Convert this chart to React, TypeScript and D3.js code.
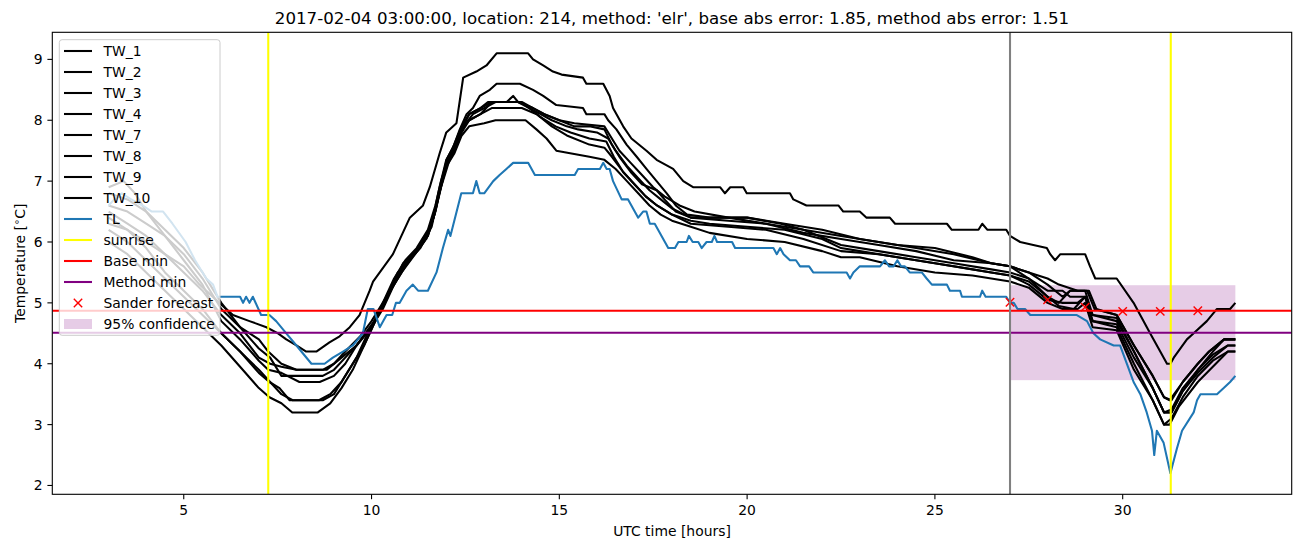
import React from "react";
import * as d3 from "d3";

type Pt = [number, number];

// ---- data (hours, °C) ----
const tw1: Pt[] = [[3.0,6.3],[3.5,6.2],[4.0,6.0],[4.5,5.8],[5.0,5.6],[5.42,5.3],[5.95,5.0],[6.31,4.8],[6.75,4.7],[7.2,4.6],[7.51,4.5],[7.73,4.4],[8.0,4.3],[8.26,4.2],[8.53,4.2],[8.88,4.35],[9.15,4.45],[9.42,4.6],[9.68,4.8],[9.95,5.2],[10.04,5.35],[10.57,5.8],[11.02,6.4],[11.37,6.6],[11.55,6.9],[11.81,7.45],[11.99,7.8],[12.26,7.95],[12.44,8.7],[12.79,8.8],[13.06,8.9],[13.33,9.1],[14.17,9.1],[14.3,9.0],[14.57,8.9],[14.83,8.8],[15.06,8.75],[15.63,8.7],[15.72,8.6],[16.17,8.6],[16.34,8.4],[16.43,8.2],[16.7,7.9],[16.92,7.7],[17.32,7.5],[17.59,7.35],[18.03,7.2],[18.3,7.0],[18.56,6.9],[19.28,6.9],[19.41,6.8],[19.55,6.9],[19.9,6.9],[19.99,6.8],[21.14,6.8],[21.23,6.7],[21.58,6.6],[22.43,6.6],[22.56,6.5],[23.0,6.5],[23.18,6.4],[23.8,6.4],[23.94,6.3],[25.32,6.3],[25.45,6.2],[26.16,6.2],[26.26,6.3],[26.4,6.2],[26.9,6.2],[27.0,6.1],[27.27,6.0],[27.62,5.95],[27.98,5.9],[28.07,5.8],[28.2,5.7],[28.34,5.8],[29.0,5.8],[29.13,5.6],[29.27,5.4],[29.84,5.4],[30.29,5.0],[30.73,4.5],[31.0,4.2],[31.18,4.0],[31.27,4.0],[31.36,4.1],[31.71,4.4],[31.89,4.5],[32.24,4.7],[32.51,4.9],[32.86,4.9],[33.0,5.0]];
const tw2: Pt[] = [[3.0,6.6],[3.5,6.5],[4.0,6.3],[4.5,6.1],[5.0,5.8],[5.5,5.4],[6.0,4.9],[6.5,4.6],[7.0,4.4],[7.25,4.2],[7.6,4.0],[8.0,3.9],[8.8,3.9],[9.2,4.1],[9.6,4.3],[10.13,4.75],[10.57,5.3],[10.84,5.65],[11.19,5.85],[11.46,6.05],[11.64,6.4],[11.81,6.9],[11.99,7.35],[12.17,7.55],[12.35,7.85],[12.53,8.1],[12.7,8.2],[12.88,8.4],[13.15,8.5],[13.33,8.6],[13.95,8.6],[14.3,8.5],[14.57,8.4],[14.92,8.25],[15.63,8.2],[15.72,8.1],[16.2,8.1],[16.3,8.0],[16.52,7.85],[16.79,7.6],[17.06,7.4],[17.32,7.2],[17.59,7.0],[17.86,6.8],[18.1,6.6],[18.4,6.45],[19.0,6.4],[20.0,6.4],[20.9,6.3],[21.5,6.2],[22.5,6.1],[23.5,6.0],[24.5,5.9],[25.5,5.8],[26.5,5.65],[27.0,5.6],[27.5,5.5],[28.0,5.4],[28.3,5.3],[28.8,5.2],[29.05,5.2],[29.25,4.9],[29.84,4.8],[30.3,4.3],[30.8,3.8],[31.1,3.45],[31.25,3.4],[31.6,3.7],[32.0,4.0],[32.3,4.2],[32.7,4.4],[33.0,4.4]];
const tw3: Pt[] = [[3.0,6.8],[3.5,6.7],[4.0,6.5],[4.5,6.2],[5.0,5.9],[5.5,5.5],[6.0,5.0],[6.5,4.6],[7.0,4.25],[7.3,4.1],[7.6,3.8],[8.7,3.8],[9.0,3.9],[9.3,4.1],[9.6,4.3],[10.0,4.6],[10.3,4.9],[10.6,5.3],[10.9,5.65],[11.2,5.85],[11.5,6.1],[11.7,6.5],[11.85,6.95],[12.0,7.35],[12.2,7.6],[12.4,7.9],[12.6,8.1],[12.9,8.2],[13.2,8.3],[13.6,8.3],[13.77,8.4],[13.9,8.3],[14.3,8.2],[14.6,8.1],[15.0,8.0],[15.4,7.9],[15.8,7.9],[16.2,7.85],[16.4,7.6],[16.6,7.4],[16.9,7.15],[17.2,6.95],[17.59,6.85],[17.8,6.7],[18.1,6.5],[18.5,6.4],[19.5,6.4],[20.5,6.3],[21.5,6.2],[22.5,5.95],[23.5,5.85],[24.5,5.75],[25.5,5.65],[26.5,5.55],[27.0,5.5],[27.5,5.4],[28.0,5.1],[28.3,5.0],[28.6,5.2],[29.0,5.2],[29.2,4.8],[29.84,4.7],[30.3,4.2],[30.8,3.6],[31.1,3.2],[31.3,3.25],[31.6,3.6],[32.0,3.9],[32.4,4.2],[32.7,4.4],[33.0,4.4]];
const tw4: Pt[] = [[3.0,6.5],[3.5,6.3],[4.0,6.1],[4.5,5.8],[5.0,5.5],[5.5,5.2],[6.0,4.8],[6.5,4.5],[7.0,4.1],[7.3,4.0],[7.6,3.95],[8.0,3.9],[8.7,3.9],[9.0,4.0],[9.3,4.2],[9.7,4.45],[10.0,4.7],[10.3,5.0],[10.6,5.4],[10.9,5.7],[11.2,5.9],[11.5,6.2],[11.7,6.6],[11.85,7.0],[12.0,7.3],[12.2,7.55],[12.4,7.85],[12.6,8.1],[12.9,8.2],[13.1,8.3],[13.95,8.3],[14.2,8.2],[14.5,8.1],[14.8,8.0],[15.2,7.9],[15.5,7.85],[16.0,7.8],[16.3,7.7],[16.5,7.5],[16.8,7.25],[17.1,7.05],[17.4,6.85],[17.7,6.7],[18.0,6.55],[18.5,6.4],[19.5,6.35],[20.5,6.3],[21.5,6.15],[22.5,6.05],[23.5,5.95],[24.5,5.85],[25.5,5.7],[26.5,5.65],[27.0,5.6],[27.5,5.4],[28.0,5.2],[28.4,5.2],[28.6,5.1],[29.0,5.1],[29.2,4.8],[29.84,4.75],[30.3,4.2],[30.8,3.6],[31.1,3.2],[31.3,3.2],[31.6,3.55],[32.0,3.85],[32.4,4.1],[32.8,4.3],[33.0,4.3]];
const tw7: Pt[] = [[3.0,6.9],[3.4,7.0],[3.7,6.8],[4.0,6.5],[4.5,6.1],[5.0,5.7],[5.5,5.3],[6.0,4.7],[6.5,4.4],[7.0,4.05],[7.25,3.9],[7.6,3.85],[8.08,3.7],[8.62,3.7],[9.0,3.8],[9.3,4.0],[9.6,4.3],[10.0,4.6],[10.3,5.0],[10.6,5.3],[10.9,5.6],[11.2,5.85],[11.5,6.1],[11.7,6.5],[11.85,6.9],[12.0,7.3],[12.2,7.5],[12.4,7.8],[12.6,8.0],[12.9,8.1],[13.2,8.3],[14.0,8.3],[14.3,8.2],[14.6,8.1],[15.0,8.0],[15.4,7.95],[16.2,7.9],[16.35,7.75],[16.6,7.5],[16.9,7.3],[17.2,7.1],[17.5,6.9],[17.8,6.75],[18.2,6.6],[18.6,6.5],[19.5,6.4],[20.0,6.4],[21.0,6.3],[22.0,6.2],[23.0,6.05],[24.0,5.95],[25.0,5.9],[26.0,5.75],[26.5,5.65],[27.0,5.6],[27.5,5.5],[28.0,5.3],[28.4,5.1],[28.6,5.2],[29.1,5.2],[29.3,4.9],[29.84,4.8],[30.3,4.3],[30.8,3.8],[31.1,3.45],[31.3,3.4],[31.6,3.7],[32.0,4.0],[32.3,4.2],[32.7,4.4],[33.0,4.4]];
const tw8: Pt[] = [[3.0,6.2],[3.5,6.0],[4.0,5.7],[4.5,5.4],[5.0,5.1],[5.5,4.8],[6.0,4.5],[6.5,4.2],[7.0,3.85],[7.28,3.7],[7.55,3.6],[7.82,3.4],[8.6,3.4],[8.9,3.5],[9.2,3.7],[9.5,4.0],[9.8,4.3],[10.1,4.7],[10.4,5.1],[10.7,5.5],[11.0,5.7],[11.3,5.95],[11.6,6.3],[11.8,6.8],[12.0,7.3],[12.2,7.5],[12.4,7.85],[12.6,8.0],[12.9,8.1],[13.2,8.2],[14.0,8.2],[14.4,8.1],[14.8,7.9],[15.2,7.75],[15.8,7.6],[16.2,7.55],[16.4,7.4],[16.7,7.15],[17.0,6.95],[17.3,6.75],[17.6,6.6],[18.0,6.45],[18.5,6.35],[19.0,6.3],[20.0,6.25],[21.0,6.2],[22.0,6.05],[22.5,5.9],[23.0,5.85],[24.0,5.75],[25.0,5.65],[26.0,5.55],[26.5,5.5],[27.0,5.45],[27.5,5.35],[28.0,5.1],[28.3,4.95],[28.7,4.9],[29.0,5.1],[29.2,4.7],[29.84,4.6],[30.3,4.0],[30.8,3.4],[31.1,3.0],[31.3,3.1],[31.6,3.45],[32.0,3.8],[32.4,4.05],[32.8,4.2],[33.0,4.2]];
const tw9: Pt[] = [[3.0,6.0],[3.5,5.8],[4.0,5.5],[4.5,5.2],[5.0,4.9],[5.5,4.6],[6.0,4.3],[6.5,3.95],[7.0,3.6],[7.28,3.45],[7.6,3.35],[7.89,3.2],[8.57,3.2],[8.9,3.35],[9.2,3.6],[9.5,3.9],[9.8,4.3],[10.1,4.7],[10.4,5.1],[10.7,5.45],[11.0,5.7],[11.3,5.9],[11.6,6.25],[11.8,6.8],[12.0,7.25],[12.2,7.45],[12.4,7.75],[12.6,7.9],[13.0,7.95],[13.3,8.0],[14.1,8.0],[14.39,7.85],[14.66,7.7],[14.92,7.5],[15.8,7.4],[16.2,7.35],[16.5,7.2],[16.8,7.0],[17.1,6.8],[17.4,6.6],[17.7,6.45],[18.0,6.35],[18.5,6.25],[19.0,6.15],[20.0,6.05],[21.0,6.0],[22.0,5.85],[22.5,5.75],[23.0,5.75],[24.0,5.6],[25.0,5.5],[26.0,5.45],[27.0,5.35],[27.5,5.25],[28.0,5.0],[28.4,4.9],[28.8,4.9],[29.0,5.0],[29.2,4.6],[29.84,4.55],[30.3,3.9],[30.8,3.4],[31.1,3.0],[31.25,3.0],[31.5,3.3],[32.0,3.7],[32.4,3.95],[32.8,4.2],[33.0,4.2]];
const tw10: Pt[] = [[3.0,6.4],[3.5,6.2],[4.0,5.9],[4.5,5.5],[5.0,5.2],[5.5,4.9],[6.0,4.5],[6.5,4.2],[7.0,3.9],[7.3,3.7],[7.6,3.5],[7.9,3.4],[8.7,3.4],[9.0,3.5],[9.3,3.8],[9.6,4.1],[9.9,4.5],[10.2,4.85],[10.5,5.2],[10.8,5.5],[11.1,5.75],[11.4,6.0],[11.65,6.4],[11.85,6.9],[12.05,7.3],[12.25,7.6],[12.45,7.9],[12.7,8.1],[13.0,8.2],[13.3,8.3],[13.9,8.3],[14.2,8.2],[14.5,8.05],[14.9,7.9],[15.3,7.8],[15.8,7.7],[16.25,7.65],[16.45,7.4],[16.7,7.15],[17.0,6.95],[17.3,6.75],[17.6,6.6],[18.0,6.45],[18.5,6.3],[19.5,6.25],[20.5,6.2],[21.5,6.05],[22.5,5.85],[23.5,5.8],[24.5,5.7],[25.5,5.6],[26.5,5.5],[27.0,5.45],[27.5,5.3],[28.0,5.05],[28.4,5.0],[28.8,5.0],[29.0,5.1],[29.2,4.7],[29.84,4.65],[30.3,4.1],[30.8,3.6],[31.1,3.2],[31.3,3.2],[31.6,3.55],[32.0,3.9],[32.4,4.15],[32.8,4.3],[33.0,4.3]];
const tl: Pt[] = [[3.0,6.6],[3.15,6.7],[3.35,6.8],[3.6,6.7],[3.9,6.6],[4.15,6.5],[4.45,6.5],[4.7,6.3],[5.05,6.0],[5.3,5.7],[5.6,5.4],[5.78,5.3],[5.9,5.1],[6.5,5.1],[6.58,5.0],[6.66,5.1],[6.75,5.0],[6.84,5.1],[7.06,4.8],[7.28,4.8],[7.46,4.7],[7.73,4.5],[8.0,4.3],[8.4,4.0],[8.75,4.0],[8.97,4.1],[9.24,4.2],[9.5,4.3],[9.77,4.5],[9.9,4.9],[10.05,4.9],[10.22,4.6],[10.4,4.8],[10.55,4.8],[10.65,5.0],[10.75,5.0],[10.93,5.2],[11.1,5.3],[11.24,5.2],[11.5,5.2],[11.73,5.5],[11.9,5.9],[12.04,6.2],[12.1,6.1],[12.39,6.8],[12.7,6.8],[12.79,7.0],[12.88,6.8],[13.0,6.8],[13.24,7.0],[13.41,7.1],[13.59,7.2],[13.77,7.3],[14.17,7.3],[14.35,7.1],[15.41,7.1],[15.5,7.2],[16.08,7.2],[16.17,7.3],[16.26,7.2],[16.34,7.2],[16.43,7.0],[16.66,6.7],[16.83,6.7],[17.1,6.4],[17.23,6.5],[17.32,6.5],[17.41,6.3],[17.54,6.3],[17.9,5.9],[18.08,5.9],[18.17,6.0],[18.39,6.0],[18.45,6.1],[18.55,6.0],[18.7,6.0],[18.79,5.9],[18.92,6.0],[19.06,6.0],[19.13,6.1],[19.2,6.0],[19.6,6.0],[19.68,5.9],[20.7,5.9],[20.79,5.8],[20.88,5.9],[20.97,5.8],[21.14,5.7],[21.3,5.7],[21.41,5.6],[21.65,5.6],[21.76,5.5],[22.65,5.5],[22.74,5.4],[22.83,5.5],[23.0,5.6],[23.54,5.6],[23.67,5.7],[23.78,5.6],[23.9,5.6],[24.0,5.7],[24.1,5.6],[24.2,5.6],[24.33,5.5],[24.65,5.5],[24.78,5.4],[24.92,5.3],[25.32,5.3],[25.4,5.2],[25.67,5.2],[25.72,5.1],[26.2,5.1],[26.26,5.2],[26.35,5.1],[26.9,5.1],[27.0,5.0],[27.1,5.0],[27.2,4.9],[27.4,4.9],[27.54,4.8],[28.78,4.8],[29.05,4.7],[29.22,4.5],[29.4,4.4],[29.76,4.3],[29.93,4.3],[30.11,4.0],[30.29,3.7],[30.47,3.5],[30.64,3.2],[30.78,2.9],[30.84,2.5],[30.91,2.9],[31.09,2.7],[31.27,2.2],[31.44,2.6],[31.58,2.9],[31.89,3.2],[31.98,3.4],[32.07,3.5],[32.51,3.5],[32.69,3.6],[32.86,3.7],[33.0,3.8]];

const twSeries = [
  { name: "TW_1", data: tw1 },
  { name: "TW_2", data: tw2 },
  { name: "TW_3", data: tw3 },
  { name: "TW_4", data: tw4 },
  { name: "TW_7", data: tw7 },
  { name: "TW_8", data: tw8 },
  { name: "TW_9", data: tw9 },
  { name: "TW_10", data: tw10 },
];

const sunriseHours = [7.25, 31.28];
const forecastStart = 27.0;
const baseMin = 4.87;
const methodMin = 4.51;
const confHalfWidth = 0.78;
const confRange = [27.0, 33.0];
const sanderForecast: Pt[] = [[27, 5.01], [28, 5.05], [29, 4.93], [30, 4.86], [31, 4.86], [32, 4.87]];
const xTicks = [5, 10, 15, 20, 25, 30];
const yTicks = [2, 3, 4, 5, 6, 7, 8, 9];
const title = "2017-02-04 03:00:00, location: 214, method: 'elr', base abs error: 1.85, method abs error: 1.51";

const W = 1302, H = 547;
const L = 52.3, R = 1291.7, T = 32.3, B = 494.3;
const FONT = "DejaVu Sans, sans-serif";

export default function App() {
  const x = d3.scaleLinear().domain([1.5, 34.5]).range([L, R]);
  const y = d3.scaleLinear().domain([1.855, 9.445]).range([B, T]);
  const line = d3.line<Pt>().x(d => x(d[0])).y(d => y(d[1]));
  const lw = 2.08;
  const xm = 4.2;

  const legendItems: { label: string; kind: string; color: string }[] = [
    ...twSeries.map(s => ({ label: s.name, kind: "line", color: "#000000" })),
    { label: "TL", kind: "line", color: "#1f77b4" },
    { label: "sunrise", kind: "line", color: "#ffff00" },
    { label: "Base min", kind: "line", color: "#ff0000" },
    { label: "Method min", kind: "line", color: "#800080" },
    { label: "Sander forecast", kind: "marker", color: "#ff0000" },
    { label: "95% confidence", kind: "patch", color: "#800080" },
  ];

  return (
    <svg width={W} height={H} style={{ position: "absolute", left: 0, top: 0, background: "#fff" }} fontFamily={FONT}>
      <rect x={0} y={0} width={W} height={H} fill="#ffffff" />
      <defs>
        <clipPath id="plot"><rect x={L} y={T} width={R - L} height={B - T} /></clipPath>
      </defs>
      <g clipPath="url(#plot)">
        <rect x={x(confRange[0])} y={y(methodMin + confHalfWidth)} width={x(confRange[1]) - x(confRange[0])}
          height={y(methodMin - confHalfWidth) - y(methodMin + confHalfWidth)} fill="#800080" fillOpacity={0.2} />
        {twSeries.map(s => (
          <path key={s.name} d={line(s.data) || ""} fill="none" stroke="#000" strokeWidth={lw} strokeLinejoin="round" />
        ))}
        <path d={line(tl) || ""} fill="none" stroke="#1f77b4" strokeWidth={lw} strokeLinejoin="round" />
        {sunriseHours.map(h => (
          <line key={h} x1={x(h)} x2={x(h)} y1={T} y2={B} stroke="#ffff00" strokeWidth={lw} />
        ))}
        <line x1={L} x2={R} y1={y(baseMin)} y2={y(baseMin)} stroke="#ff0000" strokeWidth={lw} />
        <line x1={L} x2={R} y1={y(methodMin)} y2={y(methodMin)} stroke="#800080" strokeWidth={lw} />
        {sanderForecast.map((d, i) => (
          <g key={i} stroke="#ff0000" strokeWidth={1.4}>
            <line x1={x(d[0]) - xm} x2={x(d[0]) + xm} y1={y(d[1]) - xm} y2={y(d[1]) + xm} />
            <line x1={x(d[0]) - xm} x2={x(d[0]) + xm} y1={y(d[1]) + xm} y2={y(d[1]) - xm} />
          </g>
        ))}
        <line x1={x(forecastStart)} x2={x(forecastStart)} y1={T} y2={B} stroke="#808080" strokeWidth={lw} />
      </g>
      {/* axes frame */}
      <rect x={L} y={T} width={R - L} height={B - T} fill="none" stroke="#000" strokeWidth={1.1} />
      {xTicks.map(t => (
        <g key={t}>
          <line x1={x(t)} x2={x(t)} y1={B} y2={B + 4.9} stroke="#000" strokeWidth={1.1} />
          <text x={x(t)} y={515} textAnchor="middle" fontSize={13.9} fill="#000">{t}</text>
        </g>
      ))}
      {yTicks.map(t => (
        <g key={t}>
          <line x1={L - 4.9} x2={L} y1={y(t)} y2={y(t)} stroke="#000" strokeWidth={1.1} />
          <text x={42.6} y={y(t)} dy="0.36em" textAnchor="end" fontSize={13.9} fill="#000">{t}</text>
        </g>
      ))}
      <text x={(L + R) / 2} y={536} textAnchor="middle" fontSize={13.9} fill="#000">UTC time [hours]</text>
      <text transform={`translate(24.5,${(T + B) / 2}) rotate(-90)`} textAnchor="middle" fontSize={13.9} fill="#000">
        Temperature [<tspan dy={-5} fontSize={10}>∘</tspan><tspan dy={5}>C]</tspan>
      </text>
      <text x={(L + R) / 2} y={24} textAnchor="middle" fontSize={16.67} fill="#000">{title}</text>
      {/* legend */}
      <g>
        <rect x={59.3} y={39.7} width={160.7} height={295.6} rx={2.8} fill="#ffffff" fillOpacity={0.8} stroke="#cccccc" strokeWidth={1} />
        {legendItems.map((it, i) => {
          const cy = 51 + i * 21.0;
          return (
            <g key={it.label}>
              {it.kind === "line" && <line x1={64} x2={92} y1={cy} y2={cy} stroke={it.color} strokeWidth={lw} />}
              {it.kind === "marker" && (
                <g stroke={it.color} strokeWidth={1.4}>
                  <line x1={78 - xm} x2={78 + xm} y1={cy - xm} y2={cy + xm} />
                  <line x1={78 - xm} x2={78 + xm} y1={cy + xm} y2={cy - xm} />
                </g>
              )}
              {it.kind === "patch" && <rect x={64} y={cy - 5} width={28} height={10} fill={it.color} fillOpacity={0.2} />}
              <text x={103.5} y={cy} dy="0.36em" fontSize={13.9} fill="#000">{it.label}</text>
            </g>
          );
        })}
      </g>
    </svg>
  );
}
